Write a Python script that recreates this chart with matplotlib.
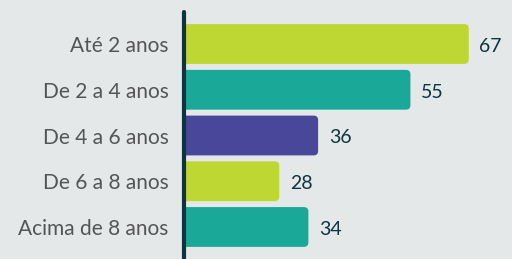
import numpy as np
import matplotlib.pyplot as plt
from matplotlib.patches import FancyBboxPatch

categories = ['Até 2 anos', 'De 2 a 4 anos', 'De 4 a 6 anos', 'De 6 a 8 anos', 'Acima de 8 anos']
values = [67, 55, 36, 28, 34]
colors = ['#BED733', '#1AA898', '#484799', '#BED733', '#1AA898']

bg = '#E4E8E8'
dark = '#0E3440'

plt.rcParams['font.family'] = ['Lato', 'DejaVu Sans']

fig = plt.figure(figsize=(5.12, 2.59), dpi=100, facecolor=bg)
ax = fig.add_axes([184/512, 0, 328/512, 247/259])
ax.set_facecolor(bg)

y = np.arange(len(categories))
bars = ax.barh(y, values, height=0.87, color=colors)

# axis in the source does not start at zero
xlim = (8.4, 75.9)
ylim = (4.70, -0.70)
ax.set_xlim(*xlim)
ax.set_ylim(*ylim)
px_x = 328 / (xlim[1] - xlim[0])
px_y = 247 / (ylim[0] - ylim[1])
for b in bars:
    x0, y0 = b.get_x(), b.get_y()
    w, h = b.get_width(), b.get_height()
    b.set_visible(False)
    p = FancyBboxPatch((x0, y0), w, h,
                       boxstyle='round,pad=0,rounding_size=%.3f' % (4.5 / px_x),
                       mutation_aspect=px_x / px_y,
                       facecolor=b.get_facecolor(), edgecolor='none')
    ax.add_patch(p)

for yi, v in zip(y, values):
    ax.text(v + 2.2, yi + 0.05, str(v), va='center', ha='left',
            fontsize=14, color=dark)

ax.set_yticks(y)
ax.set_yticklabels(categories, fontsize=15, color='#555555')
ax.tick_params(axis='y', length=0, pad=11)
ax.set_xticks([])
for s in ['top', 'right', 'bottom']:
    ax.spines[s].set_visible(False)
ax.spines['left'].set_color(dark)
ax.spines['left'].set_linewidth(3)
ax.spines['left'].set_capstyle('round')

fig.savefig('out.png', dpi=100, facecolor=bg)
